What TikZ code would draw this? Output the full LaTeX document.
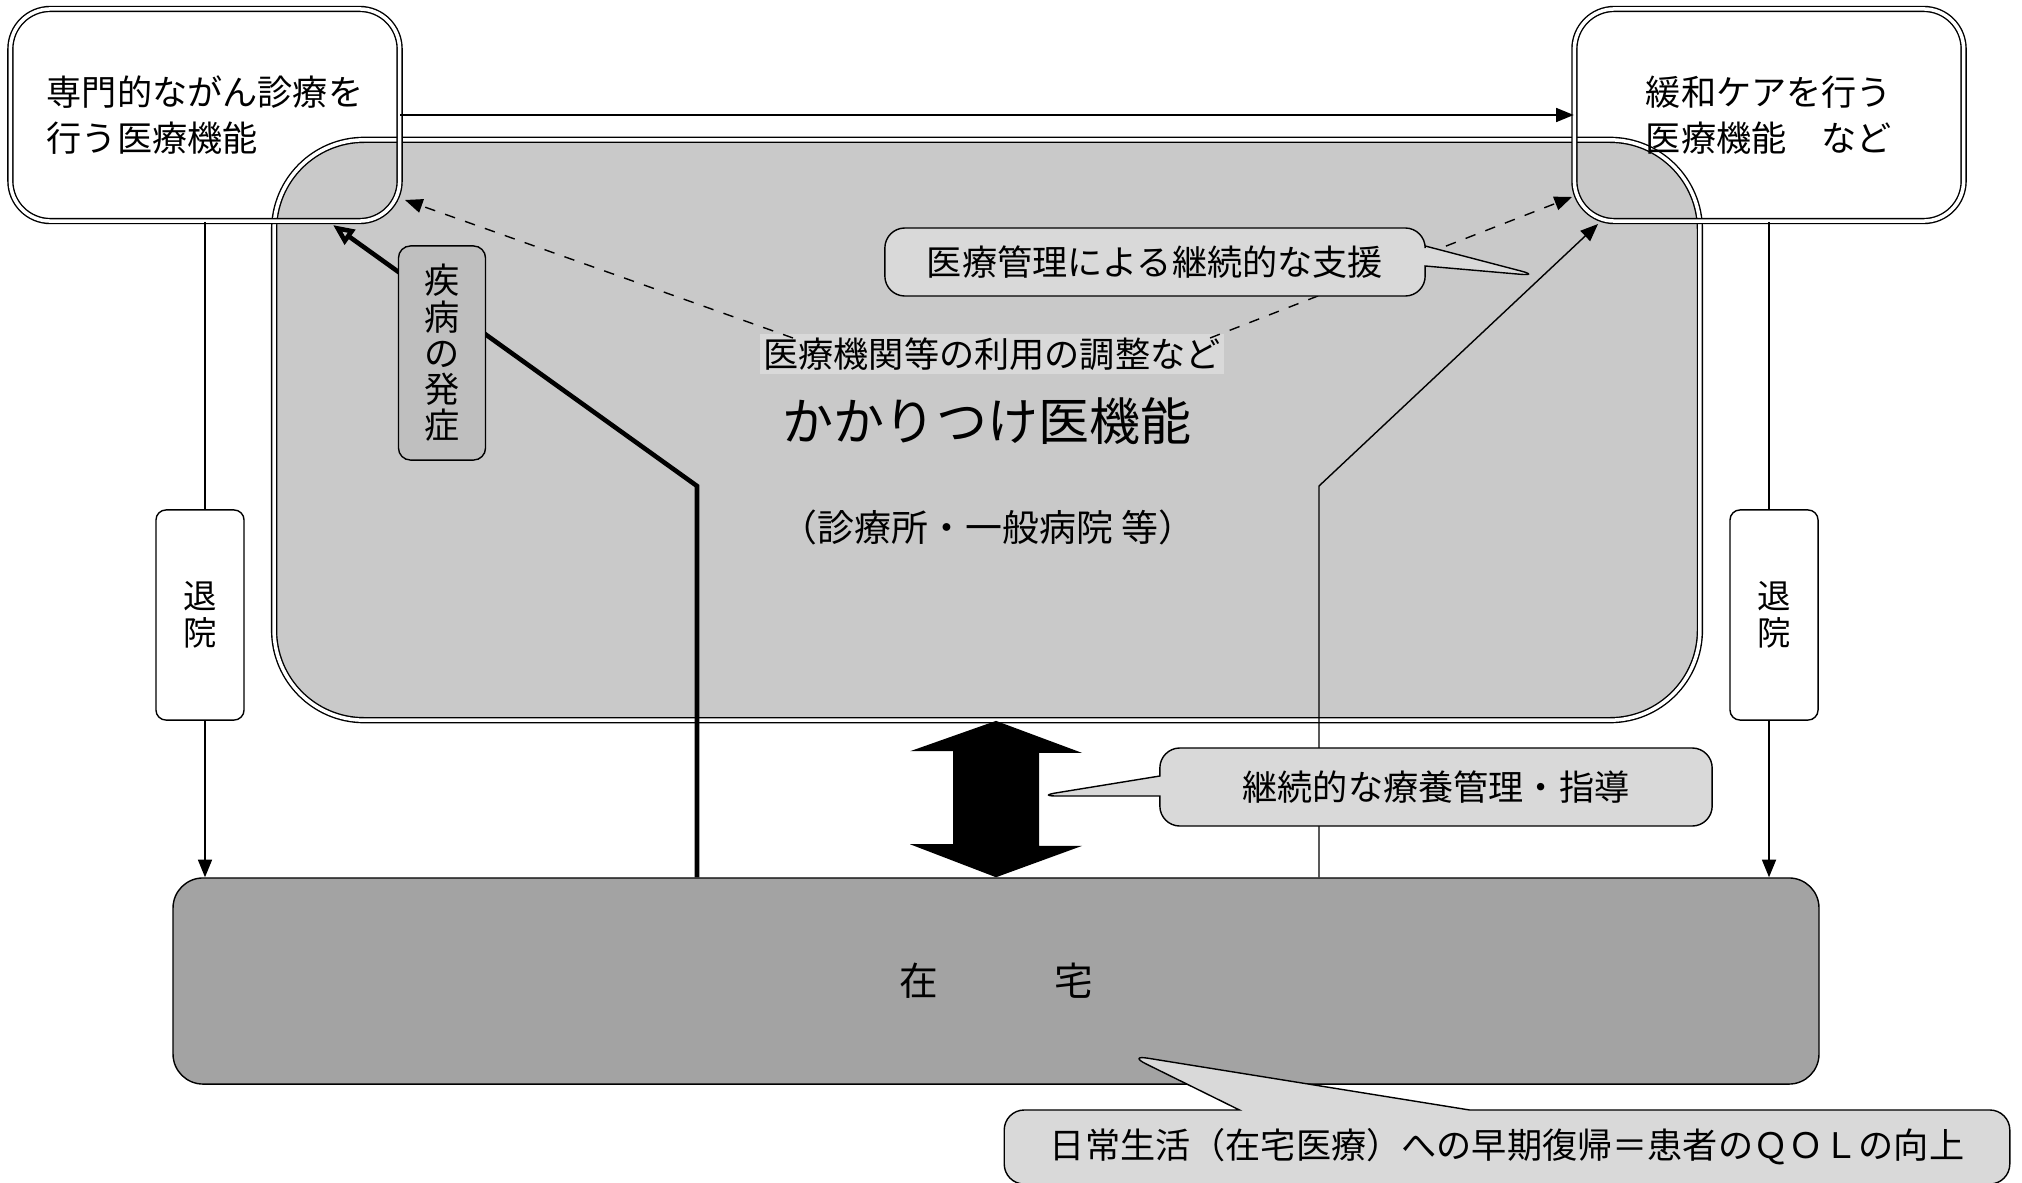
\documentclass[tikz,border=0pt]{standalone}
\usepackage{fontspec}
\setmainfont{Noto Sans CJK JP}
\usetikzlibrary{arrows.meta,shapes.callouts}
\begin{document}
\begin{tikzpicture}[x=0.01cm,y=-0.01cm,
  funcbox/.style={draw,double,double distance=1pt,rounded corners=0.4cm,minimum width=3.89cm,minimum height=2.12cm,align=left,font=\fontsize{10}{13}\selectfont},
  taiin/.style={draw,fill=white,rounded corners=0.1cm,minimum width=0.88cm,minimum height=2.1cm,align=center,font=\fontsize{9.5}{10.6}\selectfont},
  balloon/.style={rectangle callout,draw,fill=gray!30,rounded corners=0.2cm,font=\fontsize{10}{12}\selectfont},
  tip/.style={-{Triangle[length=5pt,width=4pt]}}]
\useasboundingbox (0,0) rectangle (2022,1182);

\node[draw,double,double distance=1pt,fill=gray!42,rounded corners=0.9cm,minimum width=14.25cm,minimum height=5.8cm] (kakari) at (987,430) {};
\node[funcbox] (senmon) at (205,115) {専門的ながん診療を\\行う医療機能};
\node[funcbox] (kanwa) at (1769,115) {緩和ケアを行う\\医療機能　など};
\node[draw,fill=gray!72,rounded corners=0.3cm,minimum width=16.45cm,minimum height=2.06cm,font=\fontsize{11}{13}\selectfont] (zaitaku) at (996,981) {在　　　宅};

\node[fill=gray!30,inner sep=1pt,font=\fontsize{10}{12}\selectfont] (chousei) at (992,354) {医療機関等の利用の調整など};
\node[font=\fontsize{14.5}{17}\selectfont] (kakarititle) at (987,421) {かかりつけ医機能};
\node[font=\fontsize{10.5}{12}\selectfont] (kakarisub) at (988,527) {（診療所・一般病院 等）};

\coordinate (onsetbend) at (697,486);
\coordinate (onsettip) at (333,225);
\coordinate (carebend) at (1319,486);
\coordinate (caretip) at (1598,224);
\coordinate (adjL) at (793,338);
\coordinate (adjLtip) at (405,200);
\coordinate (adjR) at (1210,338);
\coordinate (adjRtip) at (1572,197);

\draw[tip] (senmon) -- (kanwa);
\draw[tip] (senmon.south) -- (senmon.south |- zaitaku.north);
\draw[tip] (kanwa.south) -- (kanwa.south |- zaitaku.north);
\draw[line width=1.3pt,-{Triangle[open,length=6pt,width=5pt]}] (zaitaku.north -| onsetbend) -- (onsetbend) -- (onsettip);
\draw[tip] (zaitaku.north -| carebend) -- (carebend) -- (caretip);
\draw[dashed,tip] (adjL) -- (adjLtip);
\draw[dashed,tip] (adjR) -- (adjRtip);

% double arrow between kakari and zaitaku
\fill (zaitaku.north) -- ++(-86,-33) -- ++(43,0) -- ++(0,-93) -- ++(-43,0) -- (zaitaku.north |- kakari.south)
  -- ++(86,32) -- ++(-43,0) -- ++(0,93) -- ++(43,0) -- cycle;

\node[taiin] (taiinL) at (200,615) {退\\院};
\node[taiin] (taiinR) at (1774,615) {退\\院};
\node[draw,fill=gray!50,rounded corners=0.12cm,minimum width=0.87cm,minimum height=2.14cm,align=center,font=\fontsize{10}{10.3}\selectfont] (hassho) at (442,353) {疾\\病\\の\\発\\症};

\node[balloon,callout absolute pointer={(1540,276)},callout pointer width=0.2cm,minimum width=5.4cm,minimum height=0.68cm] (kanri) at (1155,262) {医療管理による継続的な支援};
\node[balloon,callout absolute pointer={(1037,796)},callout pointer width=0.2cm,minimum width=5.52cm,minimum height=0.78cm] (shidou) at (1436,787) {継続的な療養管理・指導};
\node[balloon,callout absolute pointer={(1128,1055)},callout pointer width=2.3cm,minimum width=10.05cm,minimum height=0.74cm] (qol) at (1507,1147) {日常生活（在宅医療）への早期復帰＝患者のＱＯＬの向上};

\end{tikzpicture}
\end{document}
